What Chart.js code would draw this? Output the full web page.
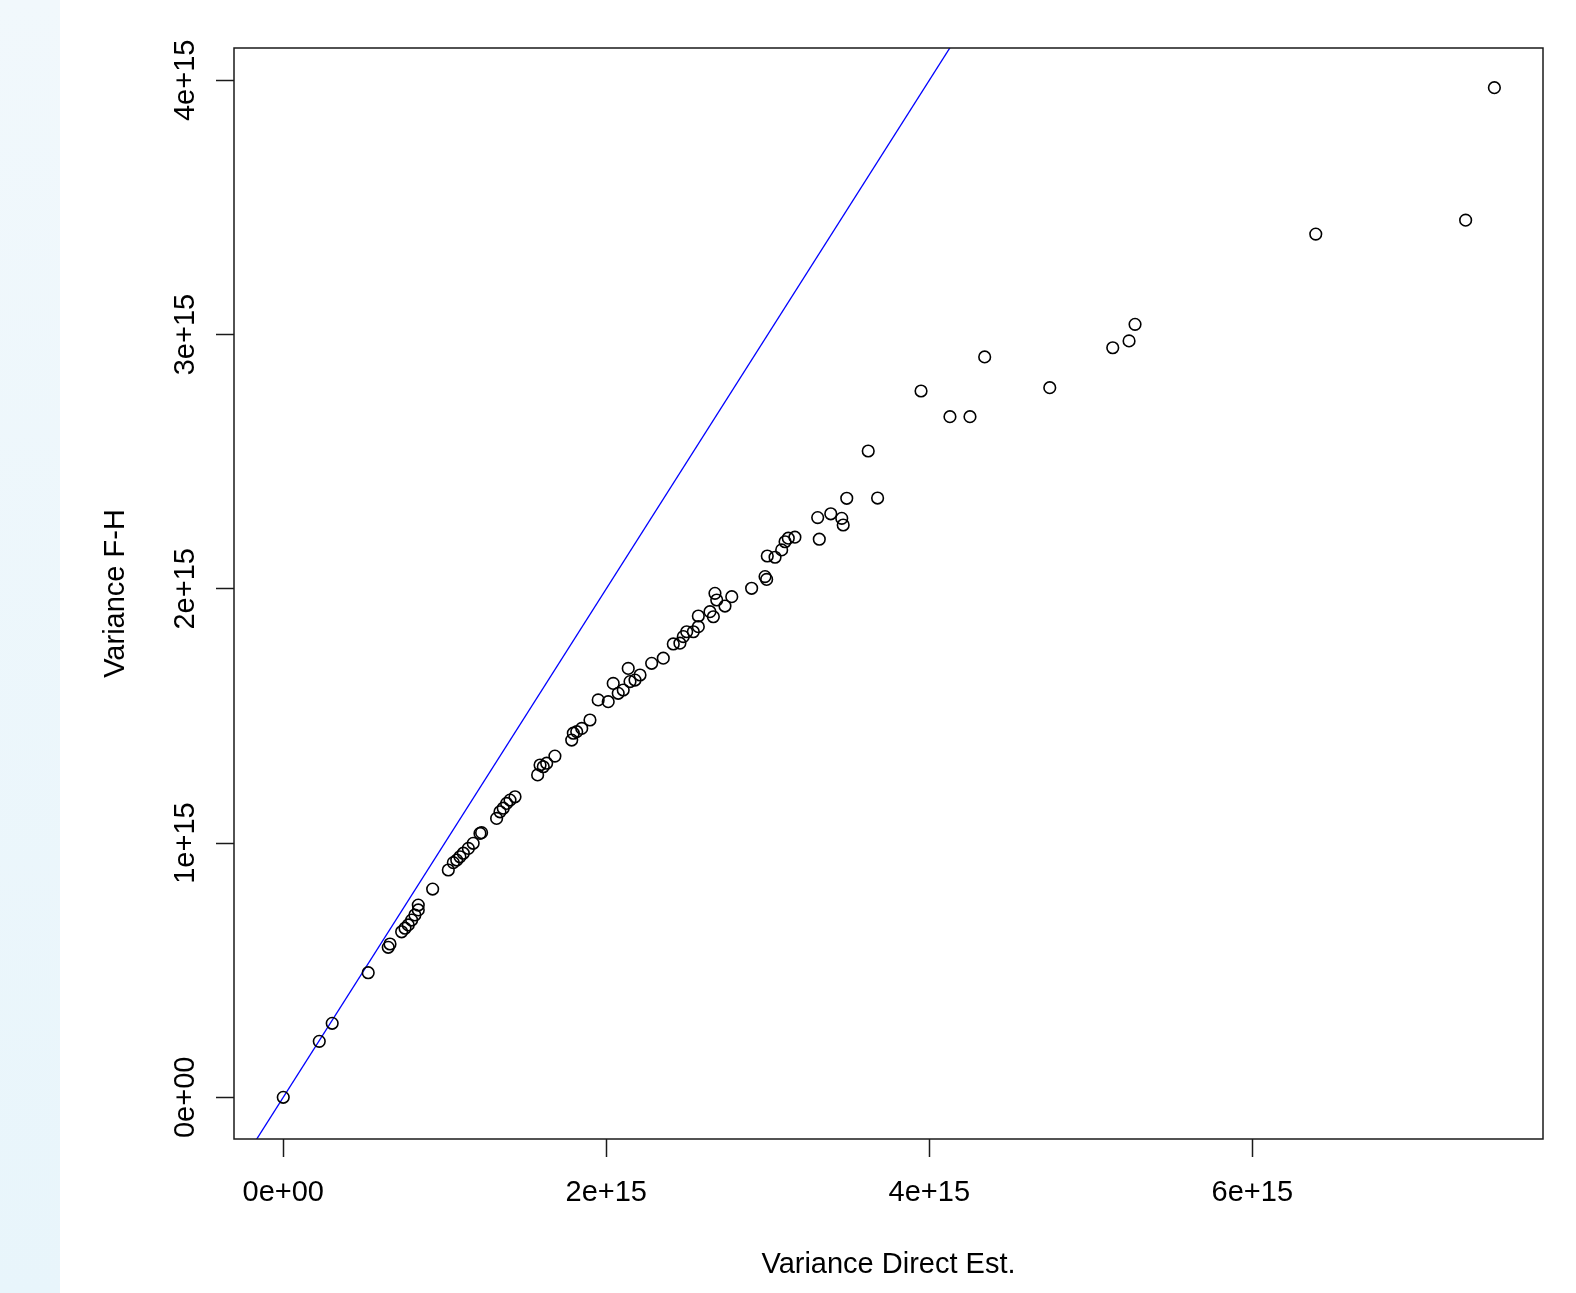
<!DOCTYPE html>
<html>
<head>
<meta charset="utf-8">
<title>Variance F-H vs Variance Direct Est.</title>
<script src="https://cdn.jsdelivr.net/npm/chart.js@4.4.1/dist/chart.umd.min.js"></script>
<style>
    html, body { margin: 0; padding: 0; background: #ffffff; }
    #wrap { position: relative; width: 1576px; height: 1293px; }
    #strip {
        position: absolute; left: 0; top: 0; width: 60px; height: 1293px;
        background: linear-gradient(to bottom, #f1f8fc, #e8f5fb);
    }
    #plot { position: absolute; left: 0; top: 0; }
</style>
</head>
<body>
<div id="wrap">
    <div id="strip"></div>
    <canvas id="plot" width="1576" height="1293"></canvas>
</div>
<script>
// values in units of 1e15
const E15 = 1e15;

const varDirect = [
    0.000, 0.223, 0.303, 0.526, 0.650, 0.661, 0.733, 0.754, 0.774, 0.795,
    0.815, 0.836, 0.836, 0.925, 1.022, 1.053, 1.074, 1.094, 1.115, 1.146,
    1.176, 1.218, 1.228, 1.321, 1.342, 1.362, 1.383, 1.404, 1.435, 1.575,
    1.590, 1.610, 1.631, 1.682, 1.786, 1.796, 1.817, 1.848, 1.899, 1.950,
    2.012, 2.043, 2.074, 2.105, 2.136, 2.147, 2.178, 2.209, 2.281, 2.353,
    2.415, 2.456, 2.477, 2.498, 2.539, 2.570, 2.570, 2.642, 2.663, 2.673,
    2.684, 2.735, 2.777, 2.900, 2.983, 2.993, 2.997, 3.045, 3.086, 3.107,
    3.127, 3.168, 3.309, 3.319, 3.390, 3.458, 3.467, 3.489, 3.622, 3.680,
    3.949, 4.128, 4.252, 4.343, 4.746, 5.136, 5.237, 5.274, 6.393, 7.321,
    7.499
];

const varFH = [
    0.000, 0.220, 0.291, 0.490, 0.590, 0.603, 0.651, 0.665, 0.678, 0.697,
    0.717, 0.737, 0.756, 0.819, 0.894, 0.923, 0.933, 0.946, 0.960, 0.979,
    0.999, 1.038, 1.041, 1.097, 1.123, 1.137, 1.156, 1.169, 1.182, 1.268,
    1.307, 1.300, 1.314, 1.342, 1.405, 1.432, 1.438, 1.451, 1.484, 1.563,
    1.556, 1.628, 1.589, 1.602, 1.687, 1.635, 1.641, 1.661, 1.707, 1.727,
    1.783, 1.786, 1.812, 1.831, 1.831, 1.851, 1.893, 1.910, 1.890, 1.982,
    1.956, 1.932, 1.969, 2.002, 2.048, 2.037, 2.129, 2.124, 2.153, 2.185,
    2.199, 2.203, 2.280, 2.195, 2.295, 2.277, 2.251, 2.356, 2.542, 2.357,
    2.778, 2.677, 2.677, 2.912, 2.791, 2.948, 2.975, 3.040, 3.395, 3.450,
    3.971
];

const xTicks = [0, 2, 4, 6];
const yTicks = [0, 1, 2, 3, 4];
const xRange = [-0.305, 7.80];
const yRange = [-0.164, 4.127];

// reference line y = x (abline(0, 1))
const refLine = [xRange[0], xRange[1]];

const FONT = '"Liberation Sans", Arial, sans-serif';

function sciLabel(v) {
    const n = Math.round(v / E15);
    return n === 0 ? '0e+00' : n + 'e+15';
}

const points = varDirect.map((x, i) => ({ x: x * E15, y: varFH[i] * E15 }));
const linePts = refLine.map(v => ({ x: v * E15, y: v * E15 }));

// box, rotated y tick labels and axis titles, R style
const rDecor = {
    id: 'rDecor',
    afterDraw(chart) {
        const { ctx, chartArea: a, scales } = chart;
        ctx.save();
        ctx.strokeStyle = '#1a1a1a';
        ctx.lineWidth = 1.5;
        ctx.strokeRect(a.left, a.top, a.right - a.left, a.bottom - a.top);

        ctx.fillStyle = '#000';
        ctx.font = '29px ' + FONT;
        ctx.textAlign = 'center';
        ctx.textBaseline = 'alphabetic';
        yTicks.forEach(t => {
            const py = scales.y.getPixelForValue(t * E15);
            ctx.save();
            ctx.translate(193.5, py);
            ctx.rotate(-Math.PI / 2);
            ctx.fillText(sciLabel(t * E15), 0, 0);
            ctx.restore();
        });

        ctx.fillText('Variance Direct Est.', (a.left + a.right) / 2, 1272.5);
        ctx.save();
        ctx.translate(123.5, (a.top + a.bottom) / 2);
        ctx.rotate(-Math.PI / 2);
        ctx.fillText('Variance F-H', 0, 0);
        ctx.restore();
        ctx.restore();
    }
};

new Chart(document.getElementById('plot'), {
    type: 'scatter',
    data: {
        datasets: [
            {
                type: 'line',
                data: linePts,
                borderColor: '#0000ff',
                borderWidth: 1.3,
                pointRadius: 0,
                fill: false,
                tension: 0,
                order: 2
            },
            {
                data: points,
                pointStyle: 'circle',
                pointRadius: 5.8,
                borderWidth: 1.6,
                borderColor: '#000',
                backgroundColor: 'rgba(0,0,0,0)',
                order: 1
            }
        ]
    },
    options: {
        responsive: false,
        devicePixelRatio: 1,
        animation: false,
        events: [],
        layout: { padding: { left: 0, top: 48, right: 33, bottom: 0 } },
        plugins: {
            legend: { display: false },
            tooltip: { enabled: false }
        },
        scales: {
            x: {
                type: 'linear',
                min: xRange[0] * E15,
                max: xRange[1] * E15,
                afterBuildTicks: s => { s.ticks = xTicks.map(v => ({ value: v * E15 })); },
                afterFit: s => { s.height = 154; },
                border: { display: false },
                grid: {
                    drawOnChartArea: false,
                    drawTicks: true,
                    tickLength: 18,
                    tickColor: '#1a1a1a',
                    tickWidth: 1.5
                },
                ticks: {
                    autoSkip: false,
                    maxRotation: 0,
                    padding: 19,
                    color: '#000',
                    font: { family: FONT, size: 29 },
                    callback: v => sciLabel(v)
                }
            },
            y: {
                type: 'linear',
                min: yRange[0] * E15,
                max: yRange[1] * E15,
                afterBuildTicks: s => { s.ticks = yTicks.map(v => ({ value: v * E15 })); },
                afterFit: s => { s.width = 234; },
                border: { display: false },
                grid: {
                    drawOnChartArea: false,
                    drawTicks: true,
                    tickLength: 18,
                    tickColor: '#1a1a1a',
                    tickWidth: 1.5
                },
                ticks: { display: false }
            }
        }
    },
    plugins: [rDecor]
});
</script>
</body>
</html>
